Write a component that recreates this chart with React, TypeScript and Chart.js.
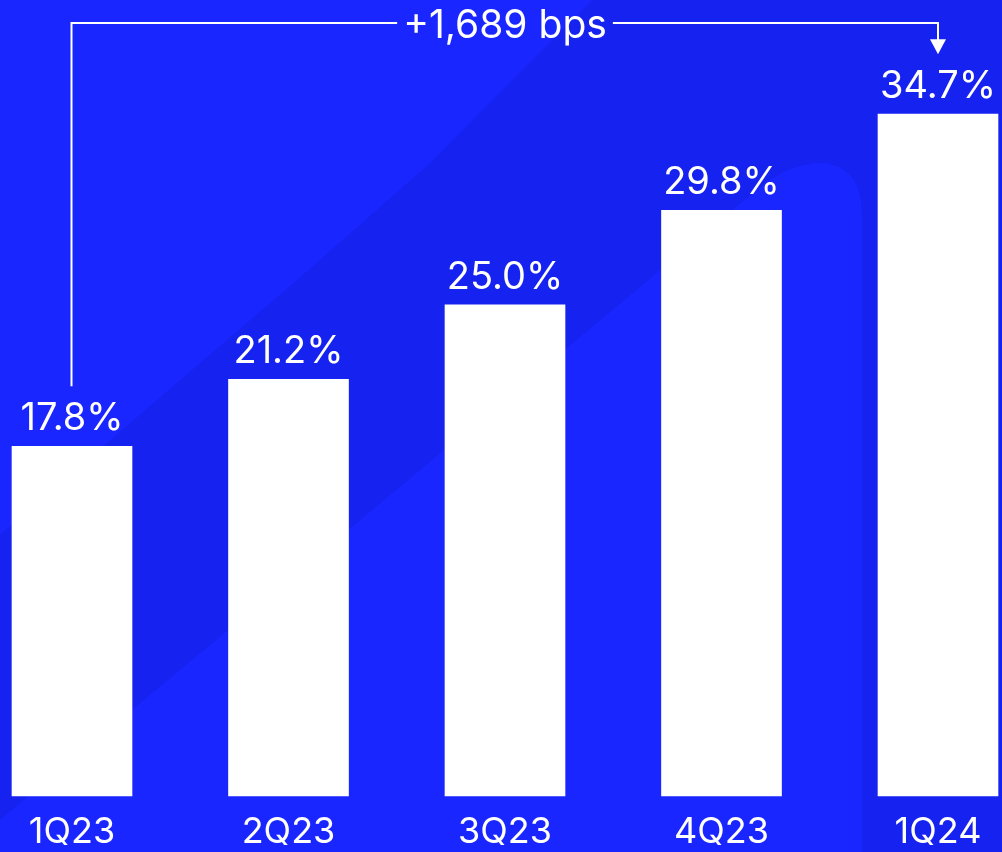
import React, { useEffect, useRef } from "react";
import { Chart, registerables } from "chart.js";

Chart.register(...registerables);

const categories = ["1Q23", "2Q23", "3Q23", "4Q23", "1Q24"];
const marginValues = [17.8, 21.2, 25.0, 29.8, 34.7];
const valueLabels = ["17.8%", "21.2%", "25.0%", "29.8%", "34.7%"];
const changeLabel = "+1,689 bps";

const BRIGHT = "#1a26ff";
const DARK = "#1622ef";
const FONT = "Inter, 'Noto Sans', sans-serif";

const backgroundPlugin = {
  id: "bgShapes",
  beforeDraw(chart: any) {
    const { ctx, width, height } = chart;
    ctx.save();
    ctx.fillStyle = DARK;
    ctx.fillRect(0, 0, width, height);
    ctx.fillStyle = BRIGHT;
    // upper-left bright area
    ctx.beginPath();
    ctx.moveTo(0, 0);
    ctx.lineTo(592, 0);
    ctx.lineTo(430, 163);
    ctx.lineTo(297, 280);
    ctx.lineTo(130, 423);
    ctx.lineTo(0, 535);
    ctx.closePath();
    ctx.fill();
    // lower-right bright area
    ctx.beginPath();
    ctx.moveTo(0, height);
    ctx.lineTo(0, 820);
    ctx.lineTo(765, 183);
    ctx.quadraticCurveTo(795, 162, 825, 163);
    ctx.quadraticCurveTo(862, 168, 862, 215);
    ctx.lineTo(862, height);
    ctx.closePath();
    ctx.fill();
    ctx.restore();
  },
};

const labelsPlugin = {
  id: "valueLabels",
  afterDatasetsDraw(chart: any) {
    const { ctx } = chart;
    const meta = chart.getDatasetMeta(0);
    ctx.save();
    ctx.fillStyle = "#ffffff";
    ctx.textAlign = "center";
    ctx.textBaseline = "alphabetic";
    ctx.font = `38px ${FONT}`;
    meta.data.forEach((bar: any, i: number) => {
      ctx.fillText(valueLabels[i], bar.x, bar.y - 16);
    });

    const first = meta.data[0];
    const last = meta.data[meta.data.length - 1];
    const lineY = 23;
    const midX = (first.x + last.x) / 2;
    ctx.font = `39px ${FONT}`;
    const tw = ctx.measureText(changeLabel).width;
    const gap = 6;
    ctx.strokeStyle = "#ffffff";
    ctx.lineWidth = 2;
    const lx = Math.round(first.x) - 0.5;
    const rx = Math.round(last.x);
    ctx.beginPath();
    ctx.moveTo(lx, first.y - 60);
    ctx.lineTo(lx, lineY);
    ctx.lineTo(midX - tw / 2 - gap, lineY);
    ctx.stroke();
    const tipY = last.y - 60;
    ctx.beginPath();
    ctx.moveTo(midX + tw / 2 + gap, lineY);
    ctx.lineTo(rx, lineY);
    ctx.lineTo(rx, tipY - 14);
    ctx.stroke();
    ctx.beginPath();
    ctx.moveTo(rx - 8, tipY - 15);
    ctx.lineTo(rx + 8, tipY - 15);
    ctx.lineTo(rx, tipY);
    ctx.closePath();
    ctx.fill();
    ctx.fillText(changeLabel, midX, 38);
    ctx.restore();
  },
};

export default function App() {
  const canvasRef = useRef<HTMLCanvasElement | null>(null);

  useEffect(() => {
    let chart: Chart | null = null;
    let cancelled = false;
    const build = () => {
      if (cancelled || !canvasRef.current) return;
      chart = new Chart(canvasRef.current, {
        type: "bar",
        data: {
          labels: categories,
          datasets: [
            {
              data: marginValues,
              backgroundColor: "#ffffff",
              borderWidth: 0,
              barThickness: 120,
              clip: false as any,
            },
          ],
        },
        options: {
          responsive: false,
          animation: false,
          layout: { padding: { left: 72, right: 64, top: 10, bottom: 2 } },
          plugins: {
            legend: { display: false },
            tooltip: { enabled: false },
          },
          scales: {
            x: {
              offset: false,
              grid: { display: false, drawTicks: false },
              border: { display: false },
              ticks: {
                color: "#ffffff",
                font: { family: FONT, size: 36, lineHeight: 1 },
                padding: 18,
                maxRotation: 0,
                autoSkip: false,
              },
              afterFit(scale: any) {
                scale.height = 54;
              },
            },
            y: {
              display: false,
              min: 0,
              max: 40,
            },
          },
        },
        plugins: [backgroundPlugin, labelsPlugin],
      });
    };
    const fontsReady = (document as any).fonts
      ? Promise.all([
          (document as any).fonts.load(`36px Inter`),
          (document as any).fonts.load(`38px Inter`),
        ]).catch(() => null)
      : Promise.resolve(null);
    fontsReady.then(build);
    return () => {
      cancelled = true;
      if (chart) chart.destroy();
    };
  }, []);

  return (
    <div
      style={{
        position: "fixed",
        left: 0,
        top: 0,
        width: 1002,
        height: 852,
        background: BRIGHT,
      }}
    >
      <canvas ref={canvasRef} width={1002} height={852} />
    </div>
  );
}
